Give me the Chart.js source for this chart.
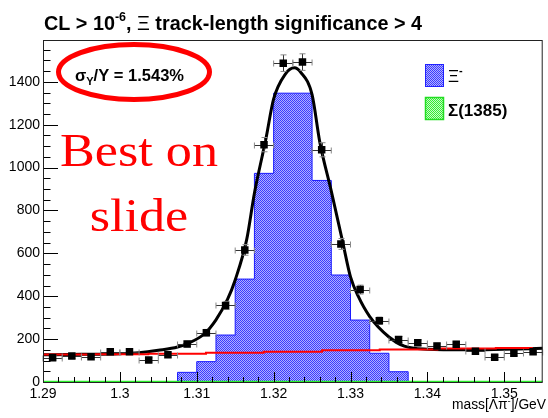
<!DOCTYPE html>
<html>
<head>
<meta charset="utf-8">
<script src="https://cdn.jsdelivr.net/npm/chart.js@4.4.0/dist/chart.umd.min.js"></script>
<style>
  html, body { margin: 0; padding: 0; background: #fff; }
</style>
</head>
<body>
<canvas id="c" width="548" height="418"></canvas>
<script>
// bin centres (0.0025 GeV bins)
const binCenters = [1.29125, 1.29375, 1.29625, 1.29875, 1.30125, 1.30375, 1.30625, 1.30875, 1.31125,
    1.31375, 1.31625, 1.31875, 1.32125, 1.32375, 1.32625, 1.32875, 1.33125, 1.33375, 1.33625,
    1.33875, 1.34125, 1.34375, 1.34625, 1.34875, 1.35125, 1.35375];
const dataCounts = [113, 121, 118, 141, 141, 103, 127, 177, 230, 357, 616, 1107, 1487, 1492,
    1083, 644, 431, 286, 198, 183, 168, 176, 143, 115, 134, 141];
const xiCounts = [0, 0, 0, 0, 0, 0, 0, 45, 95, 219, 480, 973, 1347, 1347,
    940, 499, 289, 134, 48, 0, 0, 0, 0, 0, 0, 0];
const sigmaCounts = [0, 0, 0, 0, 0, 0, 0, 0, 0, 0, 0, 0, 0, 0,
    0, 0, 0, 0, 0, 0, 0, 0, 0, 0, 0, 0];

// total fit curve
const fitX = [1.29, 1.295, 1.30, 1.3025, 1.305, 1.3075, 1.309, 1.311, 1.3125, 1.314, 1.315, 1.3165,
    1.3175, 1.319, 1.320, 1.3215, 1.3227, 1.3235, 1.325, 1.326, 1.3275, 1.329, 1.330, 1.331,
    1.3325, 1.335, 1.337, 1.340, 1.345, 1.350, 1.355];
const fitY = [127, 129, 132, 137, 148, 163, 182, 225, 290, 385, 476, 665,
    880, 1135, 1320, 1435, 1465, 1445, 1340, 1120, 890, 650, 490, 400,
    305, 210, 167, 153, 150, 153, 157];

// background component (drawn in steps)
const bkgEdges = [1.290, 1.2962, 1.3037, 1.3112, 1.3187, 1.3263, 1.3338, 1.3413, 1.3489, 1.3537];
const bkgLevels = [128, 130, 132, 136, 141, 148, 152, 156, 159];

const xTicks = [1.29, 1.30, 1.31, 1.32, 1.33, 1.34, 1.35];
const yTicks = [0, 200, 400, 600, 800, 1000, 1200, 1400];
const binWidth = 0.0025;

const ctx = document.getElementById('c').getContext('2d');

function makePattern(dark, light) {
    const p = document.createElement('canvas');
    p.width = 2; p.height = 2;
    const g = p.getContext('2d');
    g.fillStyle = light; g.fillRect(0, 0, 2, 2);
    g.fillStyle = dark; g.fillRect(0, 0, 1, 1); g.fillRect(1, 1, 1, 1);
    return ctx.createPattern(p, 'repeat');
}
const bluePattern = makePattern('#3c3cff', '#b0b0ff');
const greenPattern = makePattern('#33ee33', '#c8f8c8');

// histogram outline as step points: left edge of each bin, then closing edge
const histPoints = (counts) => {
    const pts = [{ x: binCenters[0] - binWidth / 2, y: 0 }];
    counts.forEach((c, i) => pts.push({ x: binCenters[i] - binWidth / 2, y: c }));
    const last = binCenters[counts.length - 1] + binWidth / 2;
    pts.push({ x: last, y: counts[counts.length - 1] });
    pts.push({ x: last, y: 0 });
    return pts;
};

function drawRich(c, x, y, parts, align) {
    let total = 0;
    parts.forEach(p => { c.font = p.font; p.w = c.measureText(p.t).width; total += p.w; });
    let cx = align === 'right' ? x - total : align === 'center' ? x - total / 2 : x;
    parts.forEach(p => { c.font = p.font; c.fillText(p.t, cx, y + (p.dy || 0)); cx += p.w; });
}

const F = '"Liberation Sans", Arial, sans-serif';

// error bars under the markers
const errorBars = {
    id: 'errorBars',
    beforeDatasetDraw(chart, args) {
        if (args.index !== 4) return;
        const { x, y } = chart.scales;
        const c = chart.ctx;
        c.save();
        c.strokeStyle = '#333';
        c.lineWidth = 1;
        binCenters.forEach((bc, i) => {
            const v = dataCounts[i];
            const e = Math.sqrt(v);
            const px = Math.round(x.getPixelForValue(bc)) + 0.5;
            const py = Math.round(y.getPixelForValue(v)) + 0.5;
            const x1 = x.getPixelForValue(bc - binWidth / 2);
            const x2 = x.getPixelForValue(bc + binWidth / 2);
            const y1 = y.getPixelForValue(v - e);
            const y2 = y.getPixelForValue(v + e);
            c.beginPath();
            c.moveTo(x1, py); c.lineTo(x2, py);
            c.moveTo(px, y1); c.lineTo(px, y2);
            c.stroke();
            c.strokeStyle = '#888';
            c.beginPath();
            c.moveTo(x1, py - 3); c.lineTo(x1, py + 3);
            c.moveTo(x2, py - 3); c.lineTo(x2, py + 3);
            c.moveTo(px - 3, y1); c.lineTo(px + 3, y1);
            c.moveTo(px - 3, y2); c.lineTo(px + 3, y2);
            c.stroke();
            c.strokeStyle = '#333';
        });
        c.restore();
    }
};

// ROOT-style frame with inward ticks
const frameTicks = {
    id: 'frameTicks',
    afterDatasetsDraw(chart) {
        const { x, y } = chart.scales;
        const a = chart.chartArea;
        const c = chart.ctx;
        c.save();
        c.strokeStyle = '#000';
        c.lineWidth = 1;
        c.beginPath();
        for (let v = 0; v <= 1550; v += 50) {
            const py = Math.round(y.getPixelForValue(v)) + 0.5;
            const len = v % 200 === 0 ? 15 : 7.5;
            c.moveTo(a.left, py); c.lineTo(a.left + len, py);
        }
        for (let k = 0; k <= 32; k++) {
            const v = 1.29 + k * 0.002;
            const px = Math.round(x.getPixelForValue(v)) + 0.5;
            const len = k % 5 === 0 ? 10 : 5;
            c.moveTo(px, a.bottom); c.lineTo(px, a.bottom - len);
        }
        c.stroke();
        c.strokeStyle = '#222';
        c.strokeRect(a.left + 0.5, a.top + 0.5, a.right - a.left - 1, a.bottom - a.top);
        c.restore();
    }
};

// title, legend, axis title, annotations
const decorations = {
    id: 'decorations',
    afterDraw(chart) {
        const c = chart.ctx;
        c.save();
        c.fillStyle = '#000';
        c.textBaseline = 'alphabetic';
        drawRich(c, 44, 30, [
            { t: 'CL > 10', font: `bold 19.8px ${F}` },
            { t: '-6', font: `bold 12.5px ${F}`, dy: -9 },
            { t: ', ', font: `bold 19.8px ${F}` },
            { t: 'Ξ', font: `19.8px ${F}` },
            { t: ' track-length significance > 4', font: `bold 19.8px ${F}` }
        ]);

        // legend
        c.fillStyle = bluePattern;
        c.fillRect(425, 64, 19, 23);
        c.strokeStyle = '#2020ff';
        c.lineWidth = 1;
        c.strokeRect(425.5, 64.5, 18, 22);
        c.fillStyle = greenPattern;
        c.fillRect(425, 97, 19, 23);
        c.strokeStyle = '#22dd22';
        c.lineWidth = 1.5;
        c.strokeRect(425.5, 97.5, 18, 22);
        c.fillStyle = '#000';
        drawRich(c, 448, 82, [
            { t: 'Ξ', font: `17px ${F}` },
            { t: '-', font: `bold 11px ${F}`, dy: -8 }
        ]);
        drawRich(c, 448, 116, [{ t: 'Σ(1385)', font: `bold 17px ${F}` }]);

        // x axis title
        drawRich(c, 546, 409, [
            { t: 'mass[Λπ', font: `13.8px ${F}` },
            { t: '-', font: `9.5px ${F}`, dy: -5 },
            { t: ']/GeV', font: `13.8px ${F}` }
        ], 'right');

        // resolution note with oval
        drawRich(c, 75, 81, [
            { t: 'σ', font: `bold 16.5px ${F}` },
            { t: 'Y', font: `bold 11px ${F}`, dy: 4 },
            { t: '/Y = 1.543%', font: `bold 16.5px ${F}` }
        ]);
        c.strokeStyle = '#ff0000';
        c.lineWidth = 5;
        c.beginPath();
        c.ellipse(134, 72, 75.5, 27.5, 0, 0, Math.PI * 2);
        c.stroke();

        c.fillStyle = '#ff0000';
        c.font = '47px "Liberation Serif", "Times New Roman", serif';
        c.textAlign = 'center';
        c.save();
        c.translate(139, 0);
        c.scale(1.11, 1);
        c.fillText('Best on', 0, 166);
        c.fillText('slide', 0, 231);
        c.restore();
        c.restore();
    }
};

new Chart(ctx, {
    type: 'line',
    data: {
        datasets: [
            {
                label: 'Ξ-',
                data: histPoints(xiCounts),
                stepped: 'before',
                fill: 'origin',
                backgroundColor: bluePattern,
                borderColor: '#1a1aff',
                borderWidth: 1,
                pointRadius: 0,
                order: 5
            },
            {
                label: 'fit',
                data: fitX.map((v, i) => ({ x: v, y: fitY[i] })),
                borderColor: '#000',
                borderWidth: 3,
                cubicInterpolationMode: 'monotone',
                pointRadius: 0,
                fill: false,
                order: 3
            },
            {
                label: 'background',
                data: bkgEdges.map((v, i) => ({ x: v, y: bkgLevels[Math.min(i, bkgLevels.length - 1)] })),
                stepped: 'before',
                borderColor: '#ff0000',
                borderWidth: 2,
                pointRadius: 0,
                fill: false,
                order: 2
            },
            {
                label: 'Σ(1385)',
                data: histPoints(sigmaCounts),
                stepped: 'before',
                borderColor: '#2bf02b',
                borderWidth: 2.5,
                pointRadius: 0,
                fill: false,
                order: 1
            },
            {
                label: 'data',
                data: binCenters.map((v, i) => ({ x: v, y: dataCounts[i] })),
                showLine: false,
                pointStyle: 'rect',
                pointRadius: 5.3,
                pointBackgroundColor: '#000',
                pointBorderColor: '#000',
                pointBorderWidth: 0,
                order: 0
            }
        ]
    },
    options: {
        responsive: false,
        animation: false,
        events: [],
        layout: { padding: { left: 0, top: 40, right: 2, bottom: 0 } },
        plugins: { legend: { display: false }, tooltip: { enabled: false } },
        scales: {
            x: {
                type: 'linear',
                min: 1.29,
                max: 1.355,
                grid: { display: false, drawTicks: false },
                border: { display: false },
                afterBuildTicks: (scale) => { scale.ticks = xTicks.map(v => ({ value: v })); },
                afterFit: (scale) => { scale.height = 36; },
                ticks: {
                    color: '#000',
                    font: { family: 'Liberation Sans', size: 14 },
                    padding: 4,
                    maxRotation: 0,
                    autoSkip: false,
                    callback: (v) => String(+v.toFixed(3))
                }
            },
            y: {
                min: 0,
                max: 1595,
                grid: { display: false, drawTicks: false },
                border: { display: false },
                afterBuildTicks: (scale) => { scale.ticks = yTicks.map(v => ({ value: v })); },
                afterFit: (scale) => { scale.width = 43; },
                ticks: {
                    color: '#000',
                    font: { family: 'Liberation Sans', size: 14 },
                    padding: 3,
                    autoSkip: false,
                    callback: (v) => String(v)
                }
            }
        }
    },
    plugins: [errorBars, frameTicks, decorations]
});
</script>
</body>
</html>
